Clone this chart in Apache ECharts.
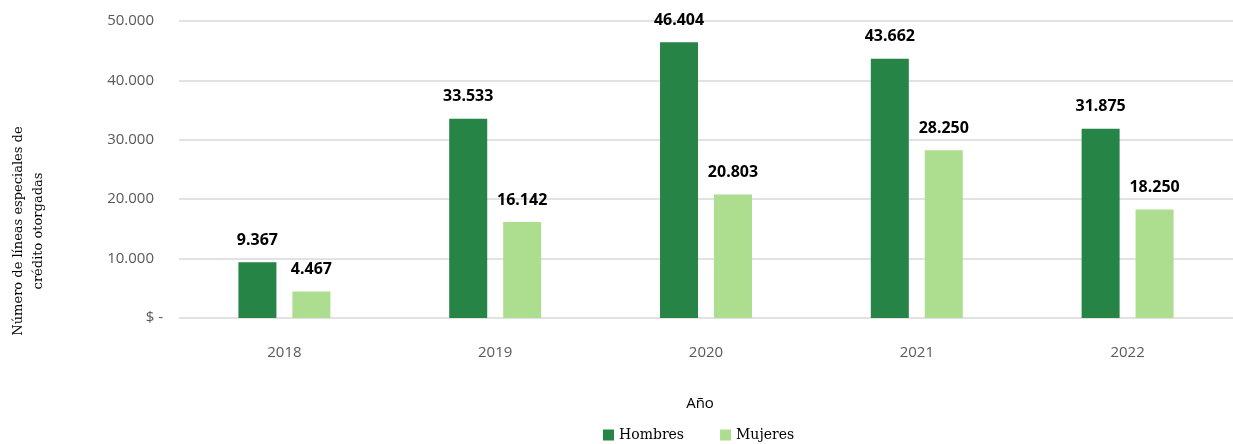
<!DOCTYPE html>
<html>
<head>
<meta charset="utf-8">
<script src="https://cdn.jsdelivr.net/npm/echarts@6/dist/echarts.min.js"></script>
<style>
  html, body { margin: 0; padding: 0; background: #ffffff; }
  #chart { width: 1233px; height: 444px; }
</style>
</head>
<body>
<div id="chart"></div>
<script>
// Years on the category axis
const years = ['2018', '2019', '2020', '2021', '2022'];
// Special credit lines granted, by sex
const hombres = [9367, 33533, 46404, 43662, 31875];
const mujeres = [4467, 16142, 20803, 28250, 18250];
const seriesNames = ['Hombres', 'Mujeres'];
const yAxisTitle = 'Número de líneas especiales de\ncrédito otorgadas';
const xAxisTitle = 'Año';

// Thousands separated with a dot
function fmt(v) {
  return String(Math.round(v)).replace(/\B(?=(\d{3})+(?!\d))/g, '.');
}

const chart = echarts.init(document.getElementById('chart'), null, { renderer: 'canvas' });

const barLabel = {
  show: true,
  position: 'top',
  distance: 14,
  color: '#000000',
  fontFamily: 'Noto Sans',
  fontWeight: 'bold',
  fontSize: 16,
  formatter: p => fmt(p.value)
};

chart.setOption({
  animation: false,
  backgroundColor: '#ffffff',
  grid: { left: 179, right: -9, top: 21, bottom: 126, containLabel: false },
  legend: {
    top: 423,
    left: 598,
    padding: [5, 5, 0, 5],
    itemWidth: 11,
    itemHeight: 11,
    itemGap: 36,
    icon: 'rect',
    textStyle: { fontFamily: 'DejaVu Serif', fontSize: 14, color: '#000000' },
    data: seriesNames
  },
  xAxis: {
    type: 'category',
    data: years,
    axisLine: { show: false },
    axisTick: { show: false },
    axisLabel: { margin: 27, fontFamily: 'Open Sans', fontSize: 15, color: '#595959' }
  },
  yAxis: {
    type: 'value',
    min: 0,
    max: 50000,
    interval: 10000,
    axisLine: { show: false },
    axisTick: { show: false },
    splitLine: { lineStyle: { color: '#d9d9d9', width: 1.5 } },
    axisLabel: {
      margin: 16,
      fontFamily: 'Open Sans',
      fontSize: 15,
      color: '#595959',
      formatter: v => (v === 0 ? '{z|$ -}' : '{n|' + fmt(v) + '}'),
      rich: {
        n: { fontFamily: 'Open Sans', fontSize: 15, color: '#595959', padding: [0, 9, 0, 0] },
        z: { fontFamily: 'Open Sans', fontSize: 15, color: '#595959' }
      }
    }
  },
  graphic: [
    {
      type: 'text',
      x: 29,
      y: 231,
      rotation: Math.PI / 2,
      style: {
        text: yAxisTitle,
        fontFamily: 'DejaVu Serif',
        fontSize: 13,
        lineHeight: 20,
        fill: '#000000',
        align: 'center',
        verticalAlign: 'middle'
      }
    },
    {
      type: 'text',
      x: 700,
      y: 404,
      style: {
        text: xAxisTitle,
        fontFamily: 'Open Sans',
        fontSize: 15,
        fill: '#000000',
        align: 'center',
        verticalAlign: 'middle'
      }
    }
  ],
  series: [
    {
      name: seriesNames[0],
      type: 'bar',
      data: hombres,
      barWidth: 38,
      barGap: '42%',
      itemStyle: { color: '#268447' },
      label: barLabel
    },
    {
      name: seriesNames[1],
      type: 'bar',
      data: mujeres,
      barWidth: 38,
      itemStyle: { color: '#addd8e' },
      label: barLabel
    }
  ]
});
</script>
</body>
</html>
